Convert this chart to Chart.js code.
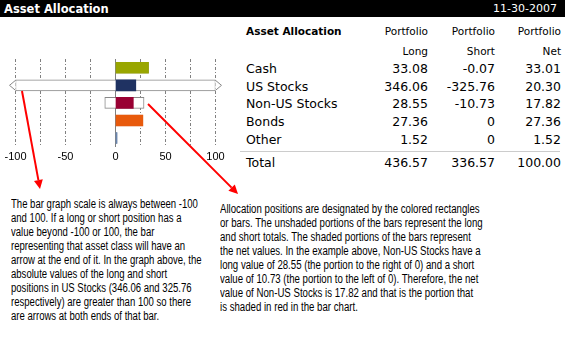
<!DOCTYPE html>
<html>
<head>
<meta charset="utf-8">
<script src="https://cdn.jsdelivr.net/npm/chart.js@4.4.0/dist/chart.umd.min.js"></script>
<style>
body { margin:0; background:#fff; width:577px; height:340px; overflow:hidden; position:relative; font-family:'DejaVu Sans', Verdana, sans-serif; color:#000; }
#header { position:absolute; left:0; top:0; width:565px; height:17px; background:#000; color:#fff; }
#title { position:absolute; left:4px; top:2px; font-weight:bold; font-size:11.5px; line-height:14px; }
#date { position:absolute; right:8px; top:2px; font-size:11px; line-height:14px; }
#chartBox { position:absolute; left:0; top:18px; width:240px; height:160px; }
.cell { position:absolute; white-space:nowrap; }
.head { font-size:10.5px; line-height:14px; }
.row { font-size:12.5px; line-height:17.6px; }
#rule { position:absolute; left:240px; top:151px; width:320px; height:1px; background:#cccccc; }
.note { position:absolute; font-family:'Liberation Sans Narrow','Arial Narrow','Liberation Sans',Arial,sans-serif; font-size:12px; line-height:14px; white-space:nowrap; transform-origin:0 0; }
.note span { display:block; width:max-content; }
#marks { position:absolute; left:0; top:0; }
</style>
</head>
<body>
<div id="header"><div id="title">Asset Allocation</div><div id="date">11-30-2007</div></div>
<div id="chartBox"><canvas id="allocChart" width="240" height="160"></canvas></div>
<div id="table"></div>
<div id="rule"></div>

<div class="note" id="noteLeft" data-line="0" data-width="187" style="left:11px; top:197px;">
<span>The bar graph scale is always between -100</span>
<span>and 100. If a long or short position has a</span>
<span>value beyond -100 or 100, the bar</span>
<span>representing that asset class will have an</span>
<span>arrow at the end of it. In the graph above, the</span>
<span>absolute values of the long and short</span>
<span>positions in US Stocks (346.06 and 325.76</span>
<span>respectively) are greater than 100 so there</span>
<span>are arrows at both ends of that bar.</span>
</div>
<div class="note" id="noteRight" data-line="5" data-width="258" style="left:220px; top:202px;">
<span>Allocation positions are designated by the colored rectangles</span>
<span>or bars. The unshaded portions of the bars represent the long</span>
<span>and short totals. The shaded portions of the bars represent</span>
<span>the net values. In the example above, Non-US Stocks have a</span>
<span>long value of 28.55 (the portion to the right of 0) and a short</span>
<span>value of 10.73 (the portion to the left of 0). Therefore, the net</span>
<span>value of Non-US Stocks is 17.82 and that is the portion that</span>
<span>is shaded in red in the bar chart.</span>
</div>

<svg id="marks" width="577" height="340">
  <line x1="22" y1="91" x2="38.4" y2="180.1" stroke="#ff0000" stroke-width="2"/>
  <polygon points="40,189 42.8,179.3 34,180.9" fill="#ff0000"/>
  <line x1="148" y1="104" x2="231.6" y2="187.6" stroke="#ff0000" stroke-width="2"/>
  <polygon points="238,194 234.8,184.4 228.4,190.8" fill="#ff0000"/>
</svg>

<script>
// data
const categories = ['Cash', 'US Stocks', 'Non-US Stocks', 'Bonds', 'Other'];
const longValues = [33.08, 346.06, 28.55, 27.36, 1.52];
const shortValues = [-0.07, -325.76, -10.73, 0, 0];
const netValues = [33.01, 20.30, 17.82, 27.36, 1.52];
const totals = [436.57, 336.57, 100.00];
const xTickLabels = [-100, -50, 0, 50, 100];
const barColors = ['#99a600', '#1f3262', '#990033', '#e85a0c', '#6a86b0'];

const scaleMin = -100;
const scaleMax = 100;

// squeeze the note text to the narrow width of the original
document.querySelectorAll('.note').forEach(note => {
    const line = note.querySelectorAll('span')[parseInt(note.dataset.line)];
    const k = parseFloat(note.dataset.width) / line.offsetWidth;
    note.style.transform = 'scaleX(' + k.toFixed(3) + ')';
});

// table on the right
function addCell(text, cls, top, left, right, bold) {
    const el = document.createElement('div');
    el.className = 'cell ' + cls;
    el.textContent = text;
    el.style.top = top + 'px';
    if (left !== null) el.style.left = left + 'px';
    if (right !== null) el.style.right = right + 'px';
    if (bold) el.style.fontWeight = 'bold';
    document.getElementById('table').appendChild(el);
}

function fmt(v) {
    return v === 0 ? '0' : v.toFixed(2);
}

const colRights = [149, 82, 16];
addCell('Asset Allocation', 'head', 24, 246, null, true);
['Portfolio', 'Portfolio', 'Portfolio'].forEach((t, j) => addCell(t, 'head', 24.4, null, colRights[j]));
['Long', 'Short', 'Net'].forEach((t, j) => addCell(t, 'head', 43.6, null, colRights[j]));

categories.forEach((cat, i) => {
    const top = 60.2 + i * 17.6;
    addCell(cat, 'row', top, 246, null);
    addCell(fmt(longValues[i]), 'row', top, null, colRights[0]);
    addCell(fmt(shortValues[i]), 'row', top, null, colRights[1]);
    addCell(fmt(netValues[i]), 'row', top, null, colRights[2]);
});
addCell('Total', 'row', 153.9, 246, null);
totals.forEach((v, j) => addCell(v.toFixed(2), 'row', 153.9, null, colRights[j]));

// arrow heads where long / short go past the scale
const arrowPlugin = {
    id: 'overflowArrows',
    afterDatasetsDraw(chart) {
        const meta = chart.getDatasetMeta(1);
        const x = chart.scales.x;
        const c = chart.ctx;
        c.save();
        c.fillStyle = '#ffffff';
        c.strokeStyle = '#888888';
        c.lineWidth = 1;
        meta.data.forEach((bar, i) => {
            const top = bar.y - bar.height / 2;
            const bot = bar.y + bar.height / 2;
            if (longValues[i] > scaleMax) {
                const px = x.getPixelForValue(scaleMax);
                c.beginPath();
                c.moveTo(px, top + 0.5);
                c.lineTo(px + 6, bar.y);
                c.lineTo(px, bot - 0.5);
                c.fill();
                c.stroke();
            }
            if (shortValues[i] < scaleMin) {
                const px = x.getPixelForValue(scaleMin);
                c.beginPath();
                c.moveTo(px, top + 0.5);
                c.lineTo(px - 6, bar.y);
                c.lineTo(px, bot - 0.5);
                c.fill();
                c.stroke();
            }
        });
        c.restore();
    }
};

const clamp = v => Math.max(scaleMin, Math.min(scaleMax, v));

new Chart(document.getElementById('allocChart').getContext('2d'), {
    type: 'bar',
    data: {
        labels: categories,
        datasets: [
            {
                label: 'Net',
                data: netValues.map(v => [0, v]),
                backgroundColor: barColors,
                borderWidth: 0,
                grouped: false,
                barThickness: 11
            },
            {
                label: 'Long / Short',
                data: categories.map((c, i) => [clamp(shortValues[i]), clamp(longValues[i])]),
                backgroundColor: '#ffffff',
                borderColor: '#888888',
                borderWidth: 1,
                borderSkipped: false,
                grouped: false,
                barThickness: 11
            }
        ]
    },
    options: {
        indexAxis: 'y',
        responsive: false,
        animation: false,
        layout: { padding: { left: 15.5, right: 24.5, top: 41, bottom: 10 } },
        plugins: { legend: { display: false }, tooltip: { enabled: false } },
        scales: {
            x: {
                min: scaleMin,
                max: scaleMax,
                ticks: {
                    stepSize: 25,
                    autoSkip: false,
                    maxRotation: 0,
                    padding: 4,
                    color: '#000',
                    font: { family: 'Liberation Sans', size: 11 },
                    callback: v => xTickLabels.includes(v) ? String(v) : ''
                },
                grid: { color: '#808080', drawTicks: false },
                border: {
                    display: false,
                    dash: ctx => (ctx.tick && ctx.tick.value === 0) ? [] : [3, 2, 1, 2]
                }
            },
            y: { display: false }
        }
    },
    plugins: [arrowPlugin]
});
</script>
</body>
</html>
